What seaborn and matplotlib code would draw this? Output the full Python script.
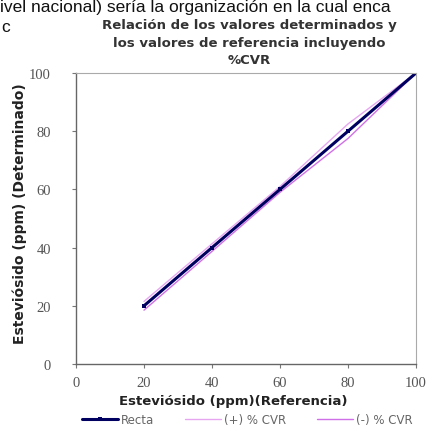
import matplotlib
matplotlib.use("Agg")
import matplotlib.pyplot as plt
import seaborn as sns
import pandas as pd

# Data
referencia = [20, 40, 60, 80, 100]
recta = [20, 40, 60, 80, 100]
cvr_mas = [21.5, 41.3, 61.0, 82.5, 100]
cvr_menos = [18.5, 38.7, 59.0, 77.5, 100]
ticks = [0, 20, 40, 60, 80, 100]
titulo = ["Relación de los valores determinados y",
          "los valores de referencia incluyendo",
          "%CVR"]

sns.set_theme(style="white")
plt.rcParams['font.family'] = ['Liberation Sans', 'DejaVu Sans']

W, H = 429, 435
fig = plt.figure(figsize=(W / 100, H / 100), dpi=100)
ax = fig.add_axes([76 / W, 1 - 365 / H, 340 / W, 291 / H])

df = pd.DataFrame({"x": referencia, "recta": recta, "mas": cvr_mas, "menos": cvr_menos})
sns.lineplot(data=df, x="x", y="mas", ax=ax, color="#e6a6f0", lw=1.0, label="(+) % CVR")
sns.lineplot(data=df, x="x", y="menos", ax=ax, color="#d070e8", lw=1.0, label="(-) % CVR")
sns.lineplot(data=df, x="x", y="recta", ax=ax, color="#000060", lw=2.2, marker="s",
             markersize=3.5, markeredgewidth=0, label="Recta")

ax.set_xlim(0, 100)
ax.set_ylim(0, 100)
ax.set_xticks(ticks)
ax.set_yticks(ticks)
ax.set_xticklabels([str(t) for t in ticks], family='Liberation Serif', fontsize=10.5, color="#555555")
ax.set_yticklabels([str(t) for t in ticks], family='Liberation Serif', fontsize=10.5, color="#555555")
ax.tick_params(axis='both', direction='out', length=3, width=0.8, color="#777777",
               left=True, bottom=True)
ax.tick_params(axis='y', pad=15)
ax.tick_params(axis='x', pad=6)
for s in ["left", "bottom"]:
    ax.spines[s].set_color("#666666")
    ax.spines[s].set_linewidth(1.0)
for s in ["top", "right"]:
    ax.spines[s].set_color("#aaaaaa")
    ax.spines[s].set_linewidth(0.8)

ax.set_xlabel("Esteviósido (ppm)(Referencia)", fontsize=9.5, fontweight='bold',
              family='DejaVu Sans', color="#222222")
ax.xaxis.set_label_coords((233 - 76) / 340, -(402 - 365) / 291)
ax.xaxis.label.set_va('center')
ax.set_ylabel("Esteviósido (ppm) (Determinado)", fontsize=10, fontweight='bold',
              family='DejaVu Sans', color="#222222")
ax.yaxis.set_label_coords(-(76 - 20) / 340, (365 - 214) / 291)
ax.yaxis.label.set_va('center')

for txt, yc in zip(titulo, [25, 43, 60]):
    fig.text(249 / W, 1 - yc / H, txt, ha='center', va='center', fontsize=9.5,
             fontweight='bold', family='DejaVu Sans', color="#333333")

fig.text(0.0, 1 - 12 / H, "ivel nacional) sería la organización en la cual enca", ha='left',
         va='baseline', fontsize=12.5, color="#111111")
fig.text(0.004, 1 - 32 / H, "c", ha='left', va='baseline', fontsize=12.5, color="#111111")

handles, labels = ax.get_legend_handles_labels()
ax.get_legend().remove()
order = [2, 0, 1]
fig.legend([handles[i] for i in order], [labels[i] for i in order], loc='center',
           bbox_to_anchor=(247 / W, 1 - 421 / H), ncol=3, frameon=False,
           prop={'family': 'DejaVu Sans', 'size': 8.5},
           handlelength=3.1, columnspacing=2.6, handletextpad=0.2,
           labelcolor="#666666")

fig.savefig("out.png", dpi=100)
